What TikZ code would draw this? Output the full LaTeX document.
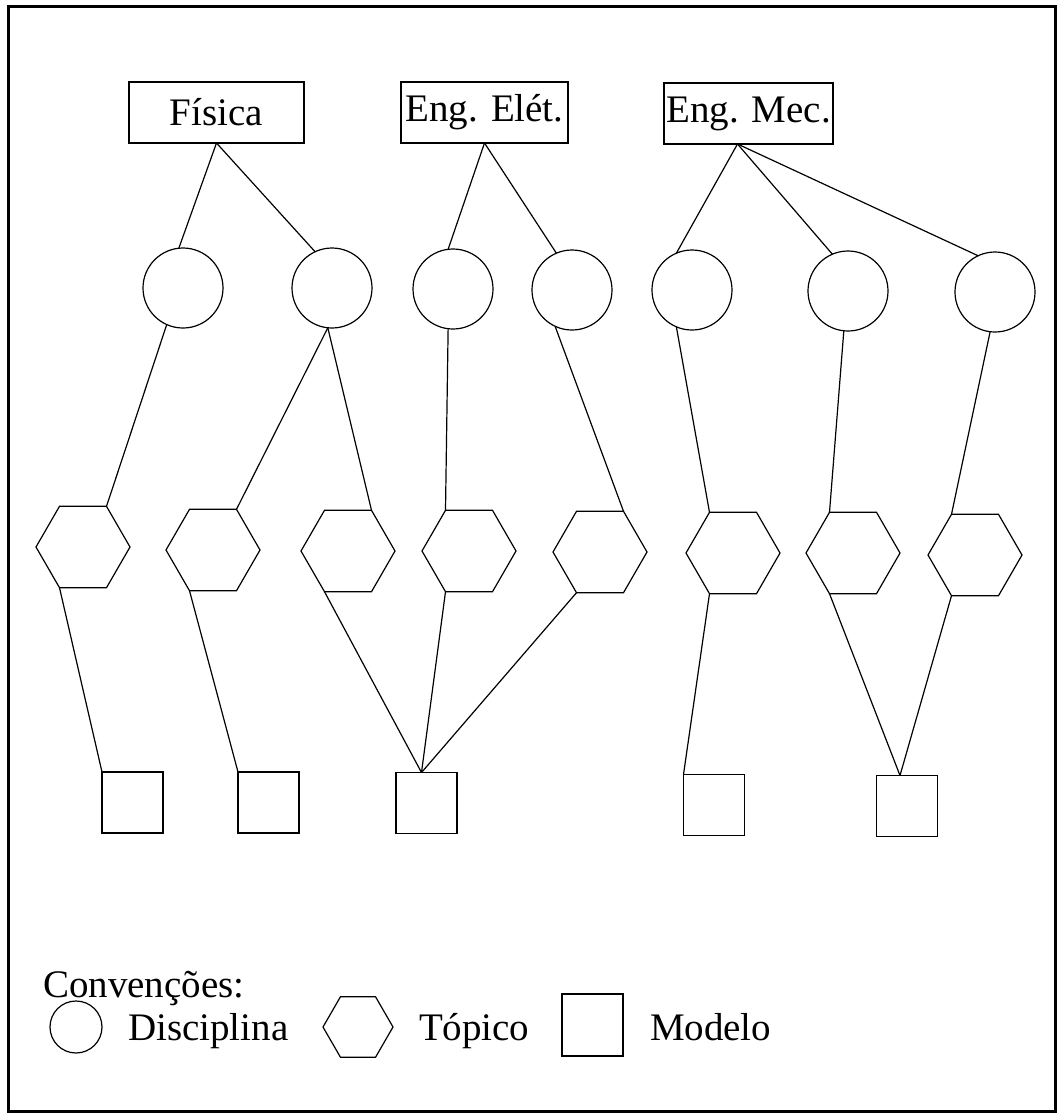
\documentclass[tikz,border=0pt]{standalone}
\usepackage{fontspec}
\setmainfont{Liberation Serif}
\usetikzlibrary{shapes.geometric,calc}
\begin{document}
\begin{tikzpicture}[x=0.5pt,y=-0.5pt,
  every node/.style={outer sep=0pt, inner sep=0pt},
  txt/.style={font=\fontsize{19.5}{22}\selectfont},
  areabox/.style={draw, txt, line width=0.6pt, minimum height=30.5pt},
  disc/.style={draw, circle, line width=0.6pt, minimum size=40pt},
  topic/.style={draw, regular polygon, regular polygon sides=6, line width=0.6pt, minimum size=47pt},
  model/.style={draw, rectangle, line width=0.6pt, minimum width=30.5pt, minimum height=30.5pt},
  link/.style={line width=0.6pt},
  lbl/.style={txt, anchor=base west}
]
\useasboundingbox (0,0) rectangle (1059,1115);
\draw[line width=1.5pt] (8,6) rectangle (1055,1111);

% areas
\node[areabox, minimum width=87.5pt] (F) at (216.5,112.5) {Física};
\node[areabox, minimum width=83.5pt] (E) at (484.5,112.5) {Eng. Elét.};
\node[areabox, minimum width=84.5pt] (M) at (748.5,113.5) {Eng. Mec.};

% disciplines
\node[disc] (c1) at (183,288) {};
\node[disc] (c2) at (332,288) {};
\node[disc] (c3) at (453,289) {};
\node[disc] (c4) at (572,290) {};
\node[disc] (c5) at (692,290) {};
\node[disc] (c6) at (848,291) {};
\node[disc] (c7) at (995,292) {};

% topics
\node[topic] (h1) at (83,547) {};
\node[topic] (h2) at (213,550) {};
\node[topic] (h3) at (348,551) {};
\node[topic] (h4) at (469,551) {};
\node[topic] (h5) at (600,552) {};
\node[topic] (h6) at (733,553) {};
\node[topic] (h7) at (853,553) {};
\node[topic] (h8) at (975,555) {};

% models
\node[model] (s1) at (132.5,802.5) {};
\node[model] (s2) at (268.5,802.5) {};
\node[model] (s3) at (426.5,803) {};
\node[model] (s4) at (714,805) {};
\node[model] (s5) at (907,806) {};

% area -> discipline
\coordinate (Mfoot) at ($(M.south)+(-11,0)$);
\draw[link] (F.south) -- (c1.96);
\draw[link] (F.south) -- (c2.115);
\draw[link] (E.south) -- (c3.97);
\draw[link] (E.south) -- (c4.113);
\draw[link] (Mfoot) -- (c5.113);
\draw[link] (Mfoot) -- (c6.113);
\draw[link] (Mfoot) -- (c7.115);

% discipline -> topic
\draw[link] (c1.246) -- (h1.60);
\draw[link] (c2.264) -- (h2.60);
\draw[link] (c2.264) -- (h3.60);
\draw[link] (c3.263) -- (h4.120);
\draw[link] (c4.245) -- (h5.60);
\draw[link] (c5.247) -- (h6.120);
\draw[link] (c6.264) -- (h7.120);
\draw[link] (c7.263) -- (h8.120);

% topic -> model
\coordinate (s3top) at ($(s3.north)+(-5,0)$);
\coordinate (s5top) at ($(s5.north)+(-7,0)$);
\draw[link] (h1.240) -- (s1.north west);
\draw[link] (h2.240) -- (s2.north west);
\draw[link] (h3.240) -- (s3top);
\draw[link] (h4.240) -- (s3top);
\draw[link] (h5.240) -- (s3top);
\draw[link] (h6.240) -- (s4.north west);
\draw[link] (h7.240) -- (s5top);
\draw[link] (h8.240) -- (s5top);

% legend
\node[lbl] (conv) at (43,997) {Convenções:};
\node[disc, minimum size=26pt] (lc) at (76,1027) {};
\node[lbl] (ldisc) at (128,1040) {Disciplina};
\node[topic, minimum size=35pt] (lh) at (358,1027) {};
\node[lbl] (ltop) at (419,1040) {Tópico};
\node[model, minimum height=31pt] (ls) at (592.5,1025) {};
\node[lbl] (lmod) at (650,1040) {Modelo};
\end{tikzpicture}
\end{document}
